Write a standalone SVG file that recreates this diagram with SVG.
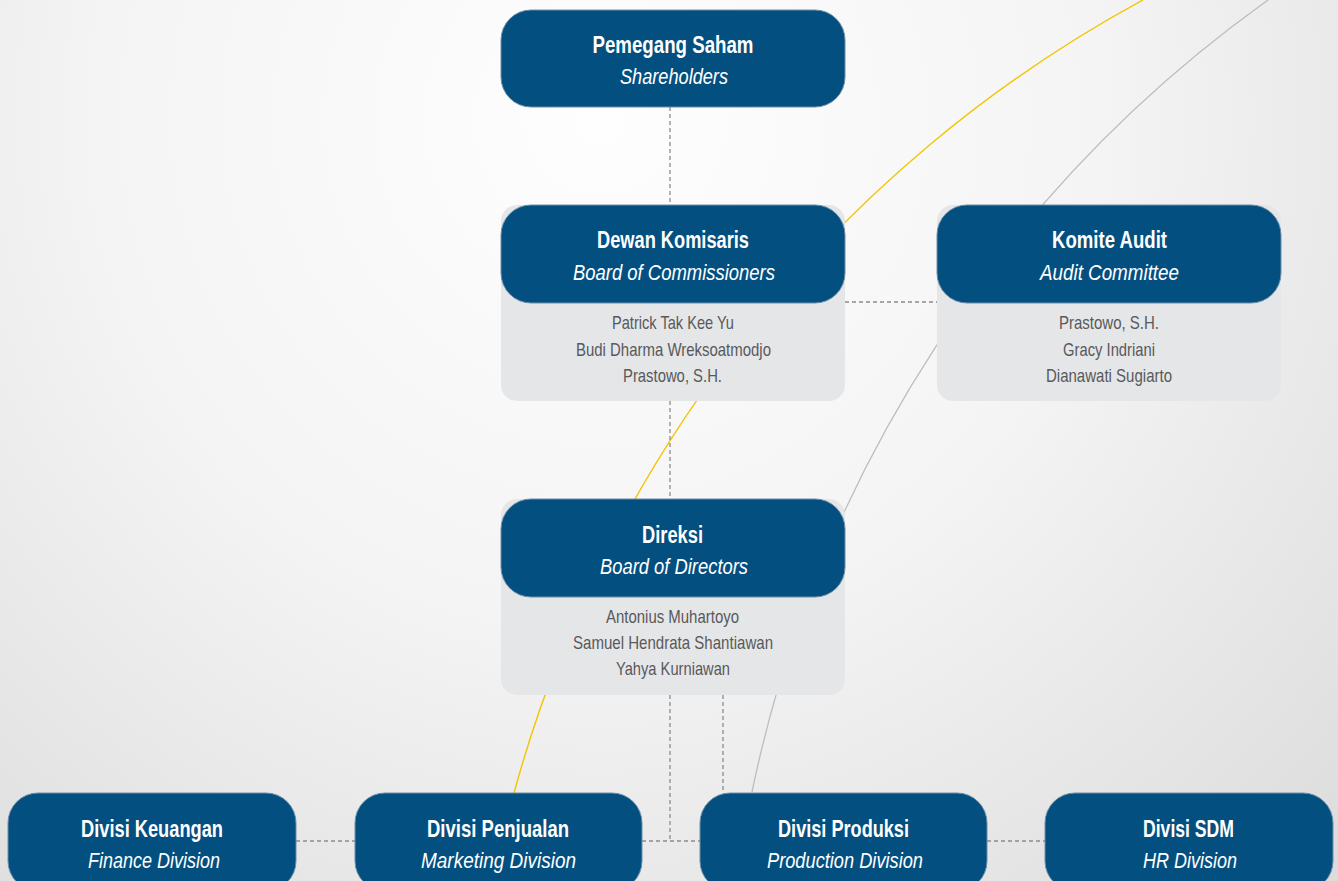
<svg xmlns="http://www.w3.org/2000/svg" width="1338" height="881" viewBox="0 0 1338 881">
<defs>
<radialGradient id="bg" cx="600" cy="120" r="1120" gradientUnits="userSpaceOnUse">
<stop offset="0" stop-color="#fefefe"/>
<stop offset="0.45" stop-color="#f4f4f4"/>
<stop offset="1" stop-color="#d9d9d9"/>
</radialGradient>
<style>
.hd{fill:#034f80;stroke:#6f8fa8;stroke-width:1}
.pn{fill:#e5e6e8}
.t{font-family:"Liberation Sans",Arial,sans-serif;font-weight:bold;font-size:23px;fill:#ffffff;text-anchor:middle}
.s{font-family:"Liberation Sans",Arial,sans-serif;font-style:italic;font-size:22px;fill:#ffffff;text-anchor:middle}
.n{font-family:"Liberation Sans",Arial,sans-serif;font-size:19px;fill:#58595b;text-anchor:middle}
.d{fill:none;stroke:#8c8c8c;stroke-width:1.3;stroke-dasharray:4 3}
.cy{fill:none;stroke:#f2c500;stroke-width:1.4}
.cg{fill:none;stroke:#bdbdbd;stroke-width:1.3}
</style>
</defs>
<rect x="0" y="0" width="1338" height="881" fill="url(#bg)"/>
<g id="decor">
<path class="cy" d="M1143,0 A1288,1288 0 0 0 514,793"/>
<path class="cg" d="M1268,0 A1298,1298 0 0 0 752,792"/>
</g>
<g id="connectors">
<line class="d" x1="670" y1="107" x2="670" y2="205"/>
<line class="d" x1="845" y1="302" x2="937" y2="302"/>
<line class="d" x1="670" y1="401" x2="670" y2="499"/>
<line class="d" x1="670" y1="695" x2="670" y2="841"/>
<line class="d" x1="723" y1="695" x2="723" y2="793"/>
<line class="d" x1="296" y1="841" x2="355" y2="841"/>
<line class="d" x1="642" y1="841" x2="700" y2="841"/>
<line class="d" x1="987" y1="841" x2="1045" y2="841"/>
</g>
<g id="shareholders">
<rect class="hd" x="501" y="10" width="344" height="97" rx="30"/>
<text class="t" x="673" y="53" textLength="161" lengthAdjust="spacingAndGlyphs">Pemegang Saham</text>
<text class="s" x="674" y="84" textLength="108" lengthAdjust="spacingAndGlyphs">Shareholders</text>
</g>
<g id="board-of-commissioners">
<rect class="pn" x="501" y="205" width="344" height="196" rx="16"/>
<rect class="hd" x="501" y="205" width="344" height="98" rx="30"/>
<text class="t" x="673" y="248" textLength="152" lengthAdjust="spacingAndGlyphs">Dewan Komisaris</text>
<text class="s" x="674" y="280" textLength="202" lengthAdjust="spacingAndGlyphs">Board of Commissioners</text>
<text class="n" x="673" y="329" textLength="122" lengthAdjust="spacingAndGlyphs">Patrick Tak Kee Yu</text>
<text class="n" x="673.5" y="356" textLength="195" lengthAdjust="spacingAndGlyphs">Budi Dharma Wreksoatmodjo</text>
<text class="n" x="672.5" y="382" textLength="99" lengthAdjust="spacingAndGlyphs">Prastowo, S.H.</text>
</g>
<g id="audit-committee">
<rect class="pn" x="937" y="205" width="344" height="196" rx="16"/>
<rect class="hd" x="937" y="205" width="344" height="98" rx="30"/>
<text class="t" x="1109.5" y="248" textLength="115" lengthAdjust="spacingAndGlyphs">Komite Audit</text>
<text class="s" x="1109.5" y="280" textLength="139" lengthAdjust="spacingAndGlyphs">Audit Committee</text>
<text class="n" x="1109" y="329" textLength="100" lengthAdjust="spacingAndGlyphs">Prastowo, S.H.</text>
<text class="n" x="1109" y="356" textLength="92" lengthAdjust="spacingAndGlyphs">Gracy Indriani</text>
<text class="n" x="1109" y="382" textLength="126" lengthAdjust="spacingAndGlyphs">Dianawati Sugiarto</text>
</g>
<g id="board-of-directors">
<rect class="pn" x="501" y="499" width="344" height="196" rx="16"/>
<rect class="hd" x="501" y="499" width="344" height="98" rx="30"/>
<text class="t" x="672.5" y="543" textLength="61" lengthAdjust="spacingAndGlyphs">Direksi</text>
<text class="s" x="674" y="574" textLength="148" lengthAdjust="spacingAndGlyphs">Board of Directors</text>
<text class="n" x="672.5" y="623" textLength="133" lengthAdjust="spacingAndGlyphs">Antonius Muhartoyo</text>
<text class="n" x="673" y="649" textLength="200" lengthAdjust="spacingAndGlyphs">Samuel Hendrata Shantiawan</text>
<text class="n" x="673" y="675" textLength="114" lengthAdjust="spacingAndGlyphs">Yahya Kurniawan</text>
</g>
<g id="finance-division">
<rect class="hd" x="8" y="793" width="288" height="98" rx="30"/>
<text class="t" x="152" y="837" textLength="142" lengthAdjust="spacingAndGlyphs">Divisi Keuangan</text>
<text class="s" x="154" y="868" textLength="132" lengthAdjust="spacingAndGlyphs">Finance Division</text>
</g>
<g id="marketing-division">
<rect class="hd" x="355" y="793" width="287" height="98" rx="30"/>
<text class="t" x="498" y="837" textLength="142" lengthAdjust="spacingAndGlyphs">Divisi Penjualan</text>
<text class="s" x="498.5" y="868" textLength="155" lengthAdjust="spacingAndGlyphs">Marketing Division</text>
</g>
<g id="production-division">
<rect class="hd" x="700" y="793" width="287" height="98" rx="30"/>
<text class="t" x="843.5" y="837" textLength="131" lengthAdjust="spacingAndGlyphs">Divisi Produksi</text>
<text class="s" x="845" y="868" textLength="156" lengthAdjust="spacingAndGlyphs">Production Division</text>
</g>
<g id="hr-division">
<rect class="hd" x="1045" y="793" width="288" height="98" rx="30"/>
<text class="t" x="1188.5" y="837" textLength="91" lengthAdjust="spacingAndGlyphs">Divisi SDM</text>
<text class="s" x="1190" y="868" textLength="94" lengthAdjust="spacingAndGlyphs">HR Division</text>
</g>
</svg>
